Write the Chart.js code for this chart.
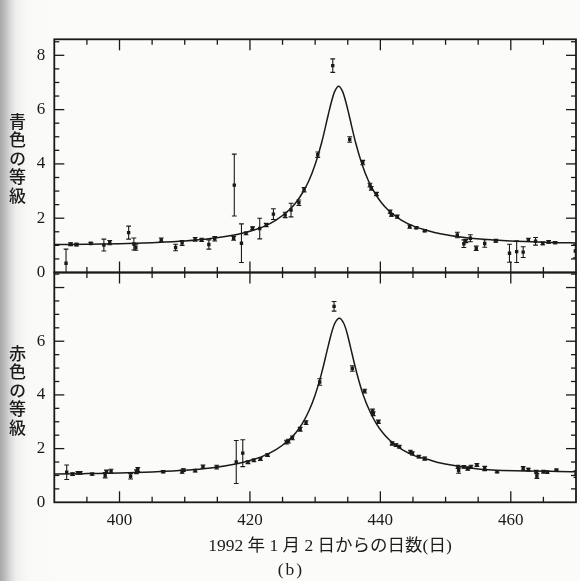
<!DOCTYPE html>
<html><head><meta charset="utf-8">
<script src="https://cdn.jsdelivr.net/npm/chart.js@4"></script>
<style>
html,body{margin:0;padding:0;}
body{width:580px;height:581px;position:relative;overflow:hidden;
background:linear-gradient(to right,#a8a8a8 0px,#bcbcbc 5px,#d8d8d8 10px,#efefed 16px,#f9f9f7 28px,#fbfbf9 60px);}
canvas{position:absolute;left:0;top:0;}
.yt{position:absolute;writing-mode:vertical-rl;font-family:"Noto Sans CJK JP";font-size:17px;font-weight:500;letter-spacing:1.4px;color:#1c1c1c;line-height:17px;}
.xt{position:absolute;font-family:"Liberation Serif","Noto Sans CJK JP";font-size:17.5px;color:#1c1c1c;white-space:nowrap;transform:translateX(-50%);}
</style></head>
<body>
<canvas id="c1" width="580" height="581"></canvas>
<canvas id="c2" width="580" height="581"></canvas>
<div class="yt" style="left:9px;top:113px;">青色の等級</div>
<div class="yt" style="left:9px;top:345px;">赤色の等級</div>
<div class="xt" style="left:330px;top:531px;">1992 年 1 月 2 日からの日数(日)</div>
<div class="xt" style="left:291px;top:559px;letter-spacing:2px;">(b)</div>
<script>
// ---- tick labels ----
const xTicks = [400, 420, 440, 460];
const yTicksTop = [0, 2, 4, 6, 8];
const yTicksBottom = [0, 2, 4, 6, 8];

// ---- blue (top) observations ----
const blueDay = [391.8,392.5,393.4,395.6,397.6,398.5,401.4,402.2,402.5,406.4,408.6,409.6,411.6,412.6,413.7,414.6,417.5,417.6,418.7,419.4,420.4,421.5,422.5,423.6,425.4,426.3,427.5,428.3,430.4,432.7,435.3,437.3,438.4,438.6,439.4,441.5,441.7,442.6,444.5,445.5,446.8,451.8,452.8,453.1,453.8,454.7,456.0,457.7,459.8,460.9,461.9,462.7,463.8,464.9,465.8,466.8,469.9];
const blueMag = [0.34,1.04,1.03,1.07,1.01,1.10,1.47,1.05,0.92,1.20,0.92,1.09,1.22,1.20,1.03,1.24,1.26,3.22,1.08,1.44,1.63,1.62,1.75,2.15,2.12,2.30,2.57,3.05,4.34,7.62,4.90,4.05,3.22,3.10,2.89,2.24,2.12,2.06,1.69,1.65,1.54,1.38,1.06,1.16,1.26,0.89,1.07,1.17,0.71,0.77,0.75,1.20,1.15,1.07,1.13,1.10,0.79];
const blueErr = [0.52,0.05,0.05,0.04,0.22,0.08,0.24,0.22,0.10,0.07,0.12,0.09,0.07,0.06,0.17,0.08,0.07,1.14,0.71,0.05,0.05,0.38,0.06,0.20,0.10,0.25,0.10,0.08,0.10,0.25,0.10,0.08,0.07,0.07,0.06,0.06,0.05,0.06,0.06,0.04,0.04,0.10,0.14,0.06,0.13,0.08,0.14,0.05,0.33,0.40,0.20,0.06,0.14,0.05,0.05,0.04,0.25];

// ---- blue fitted curve ----
const blueCurveDay = [390,395,400,405,410,414,418,420,422,424,426,427,428,429,430,431,432,432.5,433,433.6,434.2,434.7,435.2,436.2,437.2,438.2,439.2,440.2,441.2,443.2,445.2,447.2,449.2,453.2,457.2,462.2,467.2,470];
const blueCurve = [1.03,1.04,1.06,1.10,1.16,1.25,1.40,1.52,1.68,1.93,2.30,2.56,2.91,3.36,3.98,4.79,5.80,6.29,6.67,6.86,6.67,6.29,5.80,4.79,3.98,3.36,2.91,2.56,2.30,1.93,1.70,1.55,1.43,1.28,1.20,1.14,1.10,1.09];

// ---- red (bottom) observations ----
const redDay = [391.9,392.8,393.6,394.0,395.8,397.8,398.0,398.7,401.7,402.6,402.8,406.7,409.6,409.8,411.6,412.8,414.9,417.9,418.9,419.7,420.6,421.6,422.7,425.6,425.9,426.5,427.7,428.6,430.7,432.9,435.7,437.6,438.8,438.9,439.7,441.8,442.4,442.9,444.6,444.9,445.9,446.8,451.9,452.0,452.8,453.4,453.9,454.8,456.0,457.9,461.9,462.7,463.9,464.0,465.0,465.6,467.0,470.0];
const redMag = [1.12,1.05,1.10,1.10,1.05,1.01,1.14,1.16,0.97,1.14,1.22,1.14,1.14,1.20,1.18,1.33,1.31,1.50,1.83,1.49,1.56,1.61,1.76,2.24,2.28,2.40,2.72,2.97,4.48,7.30,4.98,4.14,3.39,3.30,3.00,2.19,2.13,2.07,1.88,1.82,1.70,1.63,1.32,1.18,1.32,1.26,1.32,1.39,1.26,1.14,1.26,1.22,1.14,0.98,1.14,1.12,1.20,1.05];
const redErr = [0.27,0.05,0.04,0.04,0.04,0.10,0.06,0.07,0.10,0.07,0.07,0.04,0.06,0.05,0.05,0.06,0.07,0.80,0.50,0.05,0.05,0.05,0.05,0.07,0.07,0.07,0.07,0.07,0.12,0.18,0.10,0.07,0.08,0.07,0.06,0.06,0.05,0.05,0.06,0.06,0.05,0.06,0.06,0.10,0.05,0.06,0.06,0.05,0.08,0.04,0.07,0.05,0.05,0.09,0.05,0.04,0.04,0.12];

// ---- red fitted curve ----
const redCurveDay = [390,395,400,405,410,414,418,420,422,424,426,427,428,429,430,431,432,432.5,433,433.7,434.4,434.9,435.4,436.4,437.4,438.4,439.4,440.4,441.4,443.4,445.4,447.2,449.2,453.2,457.2,462.2,467.2,470];
const redCurve = [1.05,1.07,1.09,1.13,1.19,1.28,1.44,1.56,1.72,1.96,2.33,2.58,2.92,3.38,4.00,4.82,5.82,6.30,6.66,6.86,6.66,6.30,5.80,4.80,3.98,3.38,2.92,2.58,2.32,1.95,1.72,1.60,1.46,1.30,1.20,1.17,1.15,1.14];

const INK = '#1a1a1a';
const numFont = {family: 'Liberation Serif', size: 17};

const errPlugin = {
  id: 'errbars',
  beforeDatasetsDraw(chart) {
    const {ctx, chartArea: a, scales: {x, y}} = chart;
    ctx.save();
    ctx.beginPath(); ctx.rect(a.left, a.top, a.right - a.left, a.bottom - a.top); ctx.clip();
    ctx.strokeStyle = INK; ctx.lineWidth = 1.1;
    chart.data.datasets.forEach(ds => {
      if (!ds.errs) return;
      ds.data.forEach((p, i) => {
        const e = ds.errs[i];
        const px = x.getPixelForValue(p.x);
        const y1 = y.getPixelForValue(p.y - e), y2 = y.getPixelForValue(p.y + e);
        ctx.beginPath();
        ctx.moveTo(px, y1); ctx.lineTo(px, y2);
        ctx.moveTo(px - 2.4, y1); ctx.lineTo(px + 2.4, y1);
        ctx.moveTo(px - 2.4, y2); ctx.lineTo(px + 2.4, y2);
        ctx.stroke();
      });
    });
    ctx.restore();
  }
};

const framePlugin = {
  id: 'frame',
  afterDraw(chart) {
    const {ctx, chartArea: a, scales: {x, y}} = chart;
    ctx.save();
    ctx.strokeStyle = INK;
    ctx.lineWidth = 1.3;
    const seg = (x1, y1, x2, y2) => { ctx.beginPath(); ctx.moveTo(x1, y1); ctx.lineTo(x2, y2); ctx.stroke(); };
    for (let v = 395; v < 470; v += 5) {
      const px = x.getPixelForValue(v);
      const L = (v % 20 === 0) ? 11 : 5.5;
      seg(px, a.top, px, a.top + L);
      seg(px, a.bottom, px, a.bottom - L);
    }
    for (let v = 0.5; v <= 8.5; v += 0.5) {
      const py = y.getPixelForValue(v);
      if (py <= a.top + 1) continue;
      const L = (v % 2 === 0) ? 10 : 5;
      seg(a.left, py, a.left + L, py);
      seg(a.right, py, a.right - L, py);
    }
    ctx.lineWidth = 1.8;
    ctx.strokeRect(a.left, a.top, a.right - a.left, a.bottom - a.top);
    ctx.restore();
  }
};

function makeChart(id, day, mag, err, cDay, cMag, yMax, yTicks, top, bottomPad, showX, hideLabel) {
  return new Chart(document.getElementById(id), {
    type: 'scatter',
    data: {
      datasets: [
        {data: cDay.map((d, i) => ({x: d, y: cMag[i]})), showLine: true, pointRadius: 0,
         borderColor: INK, borderWidth: 1.5, cubicInterpolationMode: 'monotone', fill: false},
        {data: day.map((d, i) => ({x: d, y: mag[i]})), errs: err, pointStyle: 'rect',
         pointRadius: 2.4, backgroundColor: INK, borderWidth: 0}
      ]
    },
    options: {
      responsive: false, animation: false, events: [],
      layout: {padding: {left: 0, right: 2.7, top: top, bottom: bottomPad}},
      plugins: {legend: {display: false}, tooltip: {enabled: false}},
      scales: {
        x: {type: 'linear', min: 390, max: 470, display: showX,
            afterBuildTicks(s) { s.ticks = xTicks.map(v => ({value: v})); },
            afterFit(s) { if (showX) s.height = 581 - 502.3; },
            grid: {display: false, drawTicks: false}, border: {display: false},
            ticks: {padding: 8, color: INK, font: numFont}},
        y: {type: 'linear', min: 0, max: yMax,
            afterBuildTicks(s) { s.ticks = yTicks.map(v => ({value: v})); },
            afterFit(s) { s.width = 54.3; },
            grid: {display: false, drawTicks: false}, border: {display: false},
            ticks: {padding: 9, color: INK, font: numFont,
                    callback: v => (hideLabel !== null && v === hideLabel) ? '' : String(v)}}
      }
    },
    plugins: [errPlugin, framePlugin]
  });
}

makeChart('c1', blueDay, blueMag, blueErr, blueCurveDay, blueCurve, 8.59, yTicksTop, 39.3, 581 - 272.5, false, null);
makeChart('c2', redDay, redMag, redErr, redCurveDay, redCurve, 8.56, yTicksBottom, 272.5, 0, true, 8);
</script>
</body></html>
